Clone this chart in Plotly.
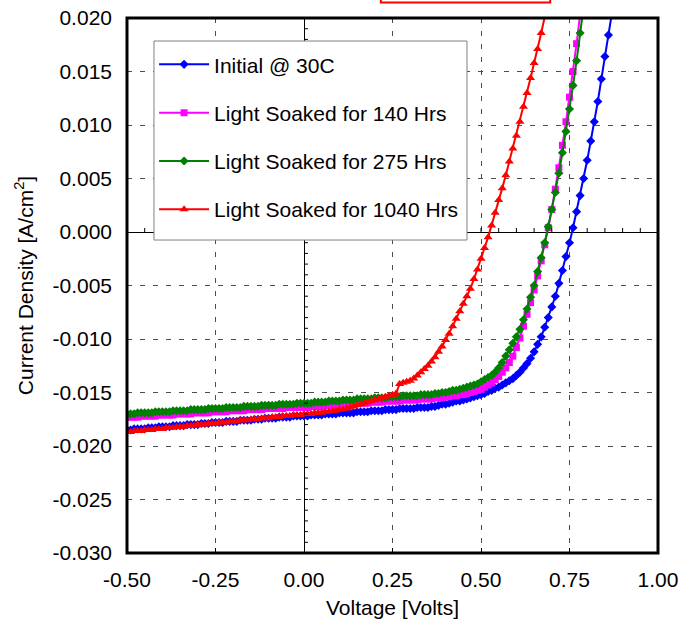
import plotly.graph_objects as go

# Voltage sweep shared by all four measurements [V]
volts = [
    -0.50, -0.49, -0.48, -0.47, -0.46, -0.45, -0.44, -0.43, -0.42, -0.41,
    -0.40, -0.39, -0.38, -0.37, -0.36, -0.35, -0.34, -0.33, -0.32, -0.31,
    -0.30, -0.29, -0.28, -0.27, -0.26, -0.25, -0.24, -0.23, -0.22, -0.21,
    -0.20, -0.19, -0.18, -0.17, -0.16, -0.15, -0.14, -0.13, -0.12, -0.11,
    -0.10, -0.09, -0.08, -0.07, -0.06, -0.05, -0.04, -0.03, -0.02, -0.01,
    0.00,
    0.01, 0.02, 0.03, 0.04, 0.05, 0.06, 0.07, 0.08, 0.09, 0.10,
    0.11, 0.12, 0.13, 0.14, 0.15, 0.16, 0.17, 0.18, 0.19, 0.20,
    0.21, 0.22, 0.23, 0.24, 0.25, 0.26, 0.27, 0.28, 0.29, 0.30,
    0.31, 0.32, 0.33, 0.34, 0.35, 0.36, 0.37, 0.38, 0.39, 0.40,
    0.41, 0.42, 0.43, 0.44, 0.45, 0.46, 0.47, 0.48, 0.49, 0.50,
    0.51, 0.52, 0.53, 0.54, 0.55, 0.56, 0.57, 0.58, 0.59, 0.60,
    0.61, 0.62, 0.63, 0.64, 0.65, 0.66, 0.67, 0.68, 0.69, 0.70,
    0.71, 0.72, 0.73, 0.74, 0.75, 0.76, 0.77, 0.78, 0.79, 0.80,
    0.81, 0.82, 0.83, 0.84, 0.85, 0.86, 0.87,
]

# Current density [A/cm^2], initial state at 30C
j_initial = [
    -0.0185, -0.0185, -0.0184, -0.0184, -0.0184, -0.0184, -0.0183, -0.0183, -0.0183, -0.0182,
    -0.0182, -0.0182, -0.0182, -0.0181, -0.0181, -0.0181, -0.0181, -0.0180, -0.0180, -0.0180,
    -0.0180, -0.0179, -0.0179, -0.0179, -0.0178, -0.0178, -0.0178, -0.0178, -0.0177, -0.0177,
    -0.0177, -0.0177, -0.0176, -0.0176, -0.0176, -0.0176, -0.0175, -0.0175, -0.0175, -0.0174,
    -0.0174, -0.0174, -0.0174, -0.0173, -0.0173, -0.0173, -0.0173, -0.0172, -0.0172, -0.0172,
    -0.0172,
    -0.0172, -0.0171, -0.0171, -0.0171, -0.0171, -0.0170, -0.0170, -0.0170, -0.0170, -0.0169,
    -0.0169, -0.0169, -0.0169, -0.0169, -0.0168, -0.0168, -0.0168, -0.0168, -0.0167, -0.0167,
    -0.0167, -0.0167, -0.0166, -0.0166, -0.0166, -0.0166, -0.0165, -0.0165, -0.0165, -0.0165,
    -0.0165, -0.0164, -0.0164, -0.0164, -0.0164, -0.0163, -0.0163, -0.0162, -0.0161, -0.0161,
    -0.0160, -0.0159, -0.0158, -0.0158, -0.0157, -0.0156, -0.0155, -0.0154, -0.0153, -0.0152,
    -0.0151, -0.0149, -0.0148, -0.0146, -0.0145, -0.0143, -0.0141, -0.0139, -0.0137, -0.0134,
    -0.0131, -0.0127, -0.0123, -0.0118, -0.0112, -0.0105, -0.0098, -0.0089, -0.0080, -0.0070,
    -0.0060, -0.0048, -0.0036, -0.0023, -0.0010, 0.0004, 0.0019, 0.0034, 0.0050, 0.0067,
    0.0085, 0.0103, 0.0122, 0.0143, 0.0164, 0.0184, 0.0205,
]

# After 140 hours of light soaking
j_140h = [
    -0.0173, -0.0173, -0.0173, -0.0173, -0.0172, -0.0172, -0.0172, -0.0172, -0.0172, -0.0171,
    -0.0171, -0.0171, -0.0171, -0.0171, -0.0170, -0.0170, -0.0170, -0.0170, -0.0170, -0.0169,
    -0.0169, -0.0169, -0.0169, -0.0169, -0.0168, -0.0168, -0.0168, -0.0168, -0.0168, -0.0167,
    -0.0167, -0.0167, -0.0167, -0.0167, -0.0166, -0.0166, -0.0166, -0.0166, -0.0166, -0.0165,
    -0.0165, -0.0165, -0.0165, -0.0165, -0.0165, -0.0164, -0.0164, -0.0164, -0.0164, -0.0164,
    -0.0164,
    -0.0164, -0.0163, -0.0163, -0.0163, -0.0163, -0.0162, -0.0162, -0.0162, -0.0162, -0.0161,
    -0.0161, -0.0161, -0.0161, -0.0161, -0.0160, -0.0160, -0.0160, -0.0160, -0.0159, -0.0159,
    -0.0159, -0.0159, -0.0158, -0.0158, -0.0158, -0.0158, -0.0158, -0.0157, -0.0157, -0.0157,
    -0.0157, -0.0157, -0.0156, -0.0156, -0.0156, -0.0156, -0.0155, -0.0155, -0.0155, -0.0154,
    -0.0154, -0.0153, -0.0153, -0.0152, -0.0152, -0.0151, -0.0150, -0.0149, -0.0148, -0.0147,
    -0.0145, -0.0143, -0.0141, -0.0138, -0.0135, -0.0131, -0.0127, -0.0122, -0.0116, -0.0108,
    -0.0099, -0.0088, -0.0077, -0.0066, -0.0054, -0.0041, -0.0027, -0.0012, 0.0004, 0.0021,
    0.0040, 0.0060, 0.0081, 0.0103, 0.0126, 0.0150, 0.0176, 0.0203,
]

# After 275 hours of light soaking
j_275h = [
    -0.0170, -0.0170, -0.0170, -0.0169, -0.0169, -0.0169, -0.0169, -0.0169, -0.0168, -0.0168,
    -0.0168, -0.0168, -0.0168, -0.0167, -0.0167, -0.0167, -0.0167, -0.0167, -0.0166, -0.0166,
    -0.0166, -0.0166, -0.0166, -0.0165, -0.0165, -0.0165, -0.0165, -0.0165, -0.0164, -0.0164,
    -0.0164, -0.0164, -0.0164, -0.0163, -0.0163, -0.0163, -0.0163, -0.0163, -0.0162, -0.0162,
    -0.0162, -0.0162, -0.0162, -0.0161, -0.0161, -0.0161, -0.0161, -0.0161, -0.0160, -0.0160,
    -0.0160,
    -0.0160, -0.0160, -0.0159, -0.0159, -0.0159, -0.0159, -0.0158, -0.0158, -0.0158, -0.0158,
    -0.0157, -0.0157, -0.0157, -0.0157, -0.0156, -0.0156, -0.0156, -0.0156, -0.0156, -0.0155,
    -0.0155, -0.0155, -0.0155, -0.0154, -0.0154, -0.0154, -0.0154, -0.0153, -0.0153, -0.0153,
    -0.0153, -0.0153, -0.0152, -0.0152, -0.0152, -0.0152, -0.0151, -0.0151, -0.0150, -0.0150,
    -0.0149, -0.0148, -0.0148, -0.0147, -0.0146, -0.0145, -0.0144, -0.0143, -0.0142, -0.0140,
    -0.0138, -0.0136, -0.0134, -0.0131, -0.0127, -0.0122, -0.0116, -0.0110, -0.0104, -0.0098,
    -0.0091, -0.0082, -0.0072, -0.0061, -0.0050, -0.0037, -0.0024, -0.0010, 0.0005, 0.0021,
    0.0037, 0.0055, 0.0074, 0.0094, 0.0115, 0.0137, 0.0160, 0.0186, 0.0211,
]

# After 1040 hours of light soaking
j_1040h = [
    -0.0187, -0.0187, -0.0186, -0.0186, -0.0186, -0.0185, -0.0185, -0.0185, -0.0184, -0.0184,
    -0.0184, -0.0183, -0.0183, -0.0183, -0.0182, -0.0182, -0.0182, -0.0181, -0.0181, -0.0181,
    -0.0180, -0.0180, -0.0180, -0.0179, -0.0179, -0.0179, -0.0178, -0.0178, -0.0178, -0.0177,
    -0.0177, -0.0177, -0.0176, -0.0176, -0.0176, -0.0175, -0.0175, -0.0175, -0.0174, -0.0174,
    -0.0174, -0.0173, -0.0173, -0.0173, -0.0172, -0.0172, -0.0172, -0.0171, -0.0171, -0.0171,
    -0.0170,
    -0.0170, -0.0170, -0.0169, -0.0169, -0.0169, -0.0168, -0.0168, -0.0167, -0.0167, -0.0166,
    -0.0166, -0.0165, -0.0164, -0.0163, -0.0162, -0.0161, -0.0160, -0.0159, -0.0158, -0.0157,
    -0.0156, -0.0155, -0.0154, -0.0153, -0.0152, -0.0151, -0.0142, -0.0141, -0.0140, -0.0139,
    -0.0137, -0.0134, -0.0131, -0.0128, -0.0125, -0.0121, -0.0117, -0.0112, -0.0107, -0.0101,
    -0.0095, -0.0088, -0.0081, -0.0074, -0.0067, -0.0060, -0.0053, -0.0044, -0.0035, -0.0025,
    -0.0015, -0.0005, 0.0006, 0.0018, 0.0030, 0.0041, 0.0053, 0.0066, 0.0078, 0.0090,
    0.0103, 0.0117, 0.0130, 0.0144, 0.0158, 0.0171, 0.0186, 0.0201,
]

series_names = [
    "Initial @ 30C",
    "Light Soaked for 140 Hrs",
    "Light Soaked for 275 Hrs",
    "Light Soaked for 1040 Hrs",
]
series_values = [j_initial, j_140h, j_275h, j_1040h]
series_colors = ["#0000FF", "#FF00FF", "#008000", "#FF0000"]
series_symbols = ["diamond", "square", "diamond", "triangle-up"]
series_marker_sizes = [7, 7, 7, 8]

x_ticks = [-0.50, -0.25, 0.00, 0.25, 0.50, 0.75, 1.00]
y_ticks = [-0.030, -0.025, -0.020, -0.015, -0.010, -0.005, 0.000,
           0.005, 0.010, 0.015, 0.020]

FONT = "Liberation Sans, Arial, sans-serif"
FS = 21

fig = go.Figure()
for i, (name, vals, col, sym, ms) in enumerate(zip(series_names, series_values,
                                                  series_colors, series_symbols,
                                                  series_marker_sizes)):
    fig.add_trace(go.Scatter(
        x=volts[:len(vals)], y=vals, name=name, mode="lines+markers",
        line=dict(color=col, width=2),
        marker=dict(symbol=sym, size=ms, color=col, line=dict(width=0)),
        legendgroup=f"g{i}",
        cliponaxis=True,
    ))

shapes = []
# small tick marks along the V = 0 and J = 0 axis lines
for k in range(-9, 20):
    shapes.append(dict(type="line", xref="x", yref="y", x0=k * 0.05, x1=k * 0.05,
                       ysizemode="pixel", yanchor=0, y0=0, y1=4,
                       line=dict(color="black", width=1)))
for k in range(-29, 20):
    shapes.append(dict(type="line", xref="x", yref="y", y0=k * 0.001, y1=k * 0.001,
                       xsizemode="pixel", xanchor=0, x0=0, x1=4,
                       line=dict(color="black", width=1)))
# white legend panel with a grey outline
shapes.append(dict(type="rect", xref="paper", yref="paper",
                   x0=0.0508, x1=0.6403, y0=0.585, y1=0.957,
                   line=dict(color="#808080", width=1), fillcolor="white"))
# heavy frame around the plotting area
shapes.append(dict(type="rect", xref="paper", yref="paper", x0=0, x1=1, y0=0, y1=1,
                   line=dict(color="black", width=3), fillcolor="rgba(0,0,0,0)"))
# red outlined box at the top edge of the figure
shapes.append(dict(type="rect", xref="paper", yref="paper",
                   x0=0.478, x1=0.797, y0=1.029, y1=1.06,
                   line=dict(color="#FF0000", width=2), fillcolor="white"))

fig.update_layout(
    width=688, height=631,
    margin=dict(l=127, r=30, t=18, b=78, autoexpand=False),
    paper_bgcolor="white", plot_bgcolor="white",
    font=dict(family=FONT, size=FS, color="black"),
    showlegend=True,
    legend=dict(
        x=0.051, y=0.951, xanchor="left", yanchor="top",
        bgcolor="rgba(0,0,0,0)", borderwidth=0,
        font=dict(family=FONT, size=FS, color="black"),
        tracegroupgap=18, itemwidth=50,
    ),
    shapes=shapes,
)

fig.update_xaxes(
    range=[-0.5, 1.0], tickvals=x_ticks, ticktext=[f"{v:.2f}" for v in x_ticks],
    showgrid=True, gridcolor="#4d4d4d", gridwidth=1, griddash="5px,8px",
    zeroline=True, zerolinecolor="black", zerolinewidth=1,
    showline=False, ticks="inside", ticklen=5, tickcolor="black", tickwidth=1,
    ticklabelstandoff=12, automargin=False,
    title=dict(text="Voltage [Volts]", standoff=10, font=dict(size=FS)),
    tickfont=dict(size=FS),
)
fig.update_yaxes(
    range=[-0.030, 0.020], tickvals=y_ticks, ticktext=[f"{v:.3f}" for v in y_ticks],
    showgrid=True, gridcolor="#4d4d4d", gridwidth=1, griddash="5px,8px",
    zeroline=True, zerolinecolor="black", zerolinewidth=1,
    showline=False, ticks="", ticklabelstandoff=14, automargin=False,
    title=dict(text="Current Density [A/cm<sup>2</sup>]", standoff=13, font=dict(size=FS)),
    tickfont=dict(size=FS),
)

fig.write_html("out.html")
